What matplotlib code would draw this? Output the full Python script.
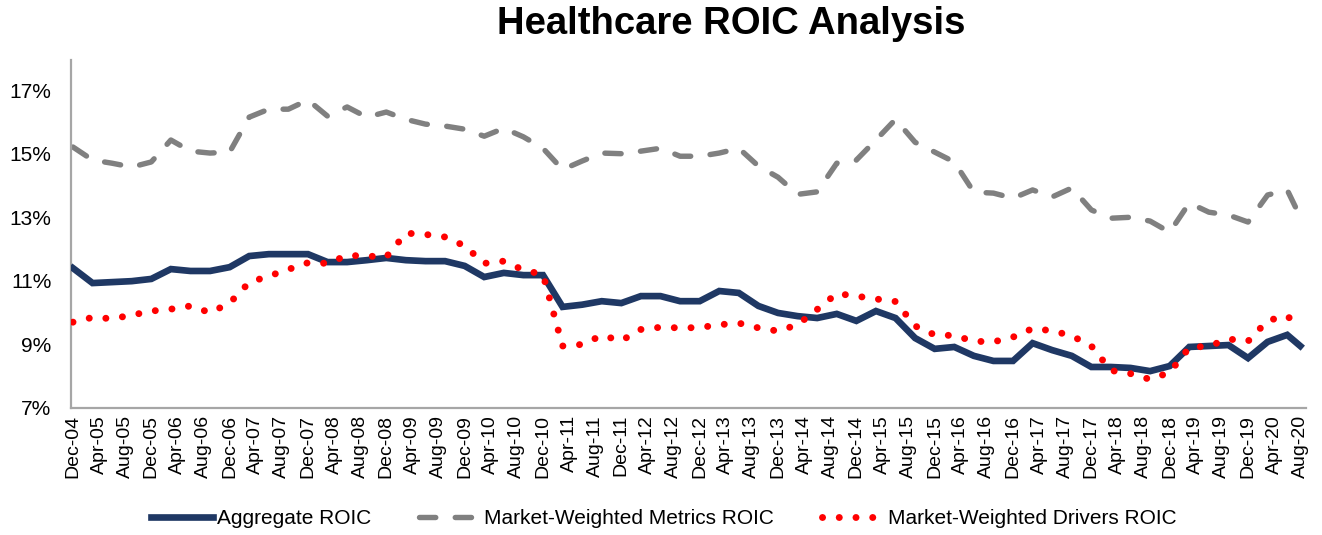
import pandas as pd
import matplotlib
matplotlib.use("Agg")
import matplotlib.pyplot as plt

plt.rcParams['font.family'] = ['Liberation Sans', 'DejaVu Sans']

# quarterly observations Dec-04 .. Jun-20, plus the latest point Aug-20
dates = list(pd.date_range('2004-12-01', '2020-06-01', freq='3MS')) + [pd.Timestamp('2020-08-01')]

aggregate_roic = [
    11.40, 10.93, 10.96, 10.99, 11.06, 11.37, 11.31, 11.31, 11.43, 11.78,
    11.84, 11.84, 11.84, 11.59, 11.59, 11.65, 11.72, 11.65, 11.62, 11.62,
    11.47, 11.12, 11.25, 11.18, 11.18, 10.18, 10.25, 10.36, 10.30, 10.52,
    10.52, 10.36, 10.36, 10.68, 10.62, 10.21, 9.99, 9.89, 9.83, 9.96,
    9.74, 10.05, 9.83, 9.20, 8.86, 8.92, 8.64, 8.48, 8.48, 9.04,
    8.82, 8.64, 8.29, 8.29, 8.26, 8.16, 8.32, 8.92, 8.95, 8.98,
    8.57, 9.08, 9.30, 8.95,
]
metrics_roic = [
    15.21, 14.80, 14.70, 14.58, 14.74, 15.43, 15.08, 15.02, 15.05, 16.15,
    16.40, 16.40, 16.69, 16.18, 16.47, 16.15, 16.31, 16.08, 15.93, 15.87,
    15.77, 15.55, 15.80, 15.53, 15.17, 14.50, 14.77, 15.02, 15.00, 15.08,
    15.17, 14.92, 14.92, 15.02, 15.17, 14.61, 14.26, 13.72, 13.80, 14.70,
    14.80, 15.43, 16.08, 15.36, 15.05, 14.74, 13.79, 13.76, 13.60, 13.86,
    13.64, 13.92, 13.23, 12.97, 13.00, 12.88, 12.53, 13.45, 13.16, 13.07,
    12.85, 13.70, 13.86, 13.01,
]
drivers_roic = [
    9.70, 9.85, 9.81, 9.92, 10.05, 10.11, 10.21, 10.00, 10.30, 10.95,
    11.15, 11.36, 11.57, 11.55, 11.80, 11.78, 11.75, 12.50, 12.46, 12.38,
    12.10, 11.55, 11.62, 11.34, 11.20, 8.95, 9.00, 9.28, 9.12, 9.47,
    9.54, 9.52, 9.53, 9.62, 9.67, 9.52, 9.42, 9.62, 10.10, 10.60,
    10.52, 10.43, 10.35, 9.58, 9.30, 9.28, 9.10, 9.08, 9.23, 9.50,
    9.43, 9.27, 8.95, 8.18, 8.08, 7.90, 8.12, 8.90, 8.95, 9.17,
    9.10, 9.75, 9.90, 9.50,
]

tick_dates = pd.date_range('2004-12-01', '2020-08-01', freq='4MS')
tick_labels = [d.strftime('%b-%y') for d in tick_dates]
y_ticks = [7, 9, 11, 13, 15, 17]

start = dates[0]
def months(d):
    return (d.year - start.year) * 12 + (d.month - start.month)

x = [months(d) for d in dates]
xt = [months(d) for d in tick_dates]

fig = plt.figure(figsize=(13.22, 5.35), dpi=100)
ax = fig.add_axes([0.0537, 0.2374, 0.9343, 0.6506])

ax.plot(x, aggregate_roic, color='#1F3864', lw=4.8, solid_joinstyle='miter',
        label='Aggregate ROIC', zorder=3)
ax.plot(x, metrics_roic, color='#808080', lw=3.9, linestyle=(0, (3.0, 3.6)),
        dash_capstyle='round', label='Market-Weighted Metrics ROIC', zorder=2)
ax.plot(x, drivers_roic, color='#FF0000', lw=5.0, linestyle=(0, (0.01, 2.4)),
        dash_capstyle='round', label='Market-Weighted Drivers ROIC', zorder=4)

ax.set_xlim(-0.3, 188.9)
ax.set_ylim(7, 17.95)
ax.set_yticks(y_ticks)
ax.set_yticklabels([f'{v}%' for v in y_ticks], fontsize=15)
ax.set_xticks(xt)
ax.set_xticklabels(tick_labels, rotation=90, fontsize=14)
ax.tick_params(axis='both', length=0, colors='black')
ax.tick_params(axis='y', pad=14)
ax.tick_params(axis='x', pad=5)

for s in ['top', 'right']:
    ax.spines[s].set_visible(False)
for s in ['left', 'bottom']:
    ax.spines[s].set_color('#A6A6A6')
    ax.spines[s].set_linewidth(1.6)

fig.text(0.553, 0.955, 'Healthcare ROIC Analysis', ha='center', va='center',
         fontsize=27.5, fontweight='bold')

fig.legend(loc='center', bbox_to_anchor=(0.502, 0.03), ncol=3, frameon=False,
           fontsize=15, handlelength=3.0, handletextpad=0.15, columnspacing=2.3)

fig.savefig('out.png', dpi=100)
